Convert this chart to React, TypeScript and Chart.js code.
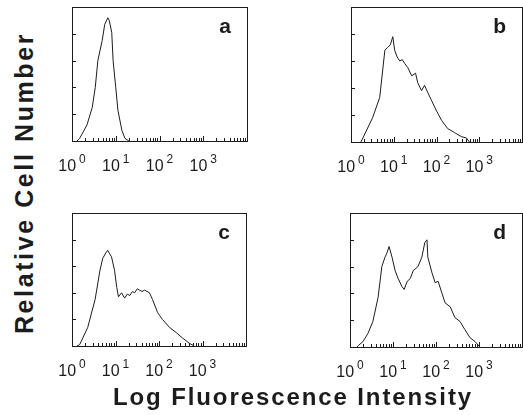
import React, { useEffect, useRef } from "react";
import { Chart, registerables } from "chart.js";

Chart.register(...registerables);

// ---- data (fluorescence intensity, relative cell number %) ----
const aFluor = [1.3, 1.5, 2.2, 2.9, 3.4, 3.9, 4.9, 5.6, 6.6, 7.1, 8.1, 8.7, 10, 11.2, 13.8, 16.2, 20];
const aCount = [0, 2, 12, 25, 40, 60, 75, 87, 92, 90, 81, 60, 40, 23, 8, 2, 0];

const bFluor = [1.7, 1.9, 3.2, 4.7, 6.2, 7.2, 8.3, 9.5, 10.5, 12, 13.8, 15.8, 18.2, 21.4, 26.3, 32.4, 36.3, 44.7, 52.5, 61.7, 75.9, 100, 132, 182, 263, 380, 501, 589];
const bCount = [0, 3, 18, 33, 68, 70, 72, 78, 68, 63, 60, 61, 58, 55, 49, 51, 44, 38, 42, 37, 31, 23, 16, 10, 7, 4, 3, 0];

const cFluor = [1.3, 1.5, 2.3, 3.4, 4.4, 5.1, 6.0, 6.6, 8.1, 9.5, 10.7, 11.7, 13.8, 16.2, 18.6, 21.4, 24.5, 27.5, 31.6, 35.5, 40.7, 46.8, 60.3, 70.8, 93.3, 120, 174, 251, 347, 501, 646];
const cCount = [0, 1, 14, 35, 57, 66, 70, 72, 67, 57, 44, 37, 40, 36, 39, 38, 41, 40, 43, 42, 41, 42, 40, 35, 25, 20, 14, 10, 6, 2, 0];

const dFluor = [1.45, 1.55, 2.0, 2.6, 3.4, 4.5, 5.5, 6.5, 7.2, 8.1, 9.5, 11.2, 13.2, 16.2, 18.2, 21.4, 25.1, 29.5, 38.0, 46.8, 55, 61.7, 64.6, 81.3, 95.5, 112, 138, 162, 214, 275, 363, 468, 617, 813, 1047];
const dCount = [0, 1, 4, 10, 19, 37, 60, 67, 70, 75, 67, 57, 51, 45, 43, 49, 51, 57, 60, 67, 78, 80, 67, 55, 48, 49, 40, 33, 30, 22, 19, 13, 7, 4, 0];

const panelLetters = ["a", "b", "c", "d"];
const xTickValues = [1, 10, 100, 1000];
const xTickExponents = ["0", "1", "2", "3"];
const yTickValues = [0, 20, 40, 60, 80, 100];

const yTitle = "Relative Cell Number";
const xTitle = "Log Fluorescence Intensity";

const FONT = '"Liberation Sans", Arial, Helvetica, sans-serif';
const INK = "#1c1c1c";

function framePlugin(letter: string) {
  return {
    id: "frame-" + letter,
    afterDraw(chart: any) {
      const ctx = chart.ctx;
      const { left, top, right, bottom } = chart.chartArea;
      const xs = chart.scales.x;
      const ys = chart.scales.y;
      ctx.save();
      ctx.strokeStyle = INK;
      ctx.lineWidth = 1;
      ctx.strokeRect(Math.round(left) + 0.5, Math.round(top) + 0.5, Math.round(right - left), Math.round(bottom - top));
      // y ticks (inward)
      ctx.beginPath();
      for (const v of yTickValues) {
        const y = Math.round(ys.getPixelForValue(v)) + 0.5;
        ctx.moveTo(left, y);
        ctx.lineTo(left + 4, y);
      }
      // x ticks (inward, log minor)
      for (const v of xTickValues) {
        for (let m = 1; m <= 9; m++) {
          const x = Math.round(xs.getPixelForValue(v * m)) + 0.5;
          const len = m === 1 ? 5 : 3;
          ctx.moveTo(x, bottom);
          ctx.lineTo(x, bottom - len);
        }
      }
      ctx.stroke();
      // x tick labels 10^k
      ctx.fillStyle = INK;
      ctx.textBaseline = "alphabetic";
      ctx.textAlign = "left";
      xTickValues.forEach((v, i) => {
        const px = xs.getPixelForValue(v);
        ctx.font = `16px ${FONT}`;
        const w1 = ctx.measureText("10").width;
        ctx.font = `12px ${FONT}`;
        const w2 = ctx.measureText(xTickExponents[i]).width;
        const gap = 3;
        const start = px - (w1 + gap + w2) / 2;
        ctx.font = `16px ${FONT}`;
        ctx.fillText("10", start, bottom + 30);
        ctx.font = `12px ${FONT}`;
        ctx.fillText(xTickExponents[i], start + w1 + gap, bottom + 22);
      });
      // panel letter
      ctx.font = `bold 21px ${FONT}`;
      ctx.textAlign = "right";
      ctx.fillText(letter, right - 16, top + 26);
      ctx.restore();
    },
  };
}

type Area = { left: number; top: number; w: number; h: number };

function Panel({ letter, fluor, count, area }: { letter: string; fluor: number[]; count: number[]; area: Area }) {
  const ref = useRef<HTMLCanvasElement | null>(null);
  const padL = 20;
  const padT = 7;
  const padR = 523 - (area.left + area.w) < 12 ? 523 - (area.left + area.w) : 12;
  const padB = 40;
  const cw = padL + area.w + padR;
  const chh = padT + area.h + padB;
  useEffect(() => {
    if (!ref.current) return;
    const chart = new Chart(ref.current, {
      type: "line",
      data: {
        datasets: [
          {
            data: fluor.map((x, i) => ({ x, y: count[i] })),
            borderColor: INK,
            borderWidth: 1,
            pointRadius: 0,
            fill: false,
            tension: 0,
          },
        ],
      },
      options: {
        responsive: false,
        animation: false,
        layout: { padding: { left: padL, top: padT, right: padR, bottom: padB } },
        plugins: { legend: { display: false }, tooltip: { enabled: false } },
        scales: {
          x: { type: "logarithmic", min: 1, max: 10000, display: false },
          y: { type: "linear", min: 0, max: 100, display: false },
        },
      },
      plugins: [framePlugin(letter)],
    } as any);
    return () => chart.destroy();
  }, []);
  return (
    <canvas
      ref={ref}
      width={cw}
      height={chh}
      style={{ position: "absolute", left: area.left - padL, top: area.top - padT, width: cw, height: chh }}
    />
  );
}

export default function App() {
  const areas: Area[] = [
    { left: 72, top: 7, w: 175, h: 134 },
    { left: 351, top: 7, w: 171, h: 135 },
    { left: 72, top: 213, w: 174, h: 133 },
    { left: 350, top: 213, w: 172, h: 134 },
  ];
  const fl = [aFluor, bFluor, cFluor, dFluor];
  const ct = [aCount, bCount, cCount, dCount];
  return (
    <div style={{ position: "absolute", left: 0, top: 0, width: 523, height: 415, background: "#fff", overflow: "hidden" }}>
      {panelLetters.map((l, i) => (
        <Panel key={l} letter={l} fluor={fl[i]} count={ct[i]} area={areas[i]} />
      ))}
      <div
        style={{
          position: "absolute",
          left: 23.5,
          top: 183,
          transform: "translate(-50%, -50%) rotate(-90deg)",
          font: `bold 25px ${FONT}`,
          lineHeight: "25px",
          letterSpacing: "2.6px",
          whiteSpace: "nowrap",
          color: INK,
        }}
      >
        {yTitle}
      </div>
      <div
        style={{
          position: "absolute",
          left: 293,
          top: 385,
          transform: "translateX(-50%)",
          font: `bold 24px ${FONT}`,
          lineHeight: "24px",
          letterSpacing: "1.9px",
          whiteSpace: "nowrap",
          color: INK,
        }}
      >
        {xTitle}
      </div>
    </div>
  );
}
